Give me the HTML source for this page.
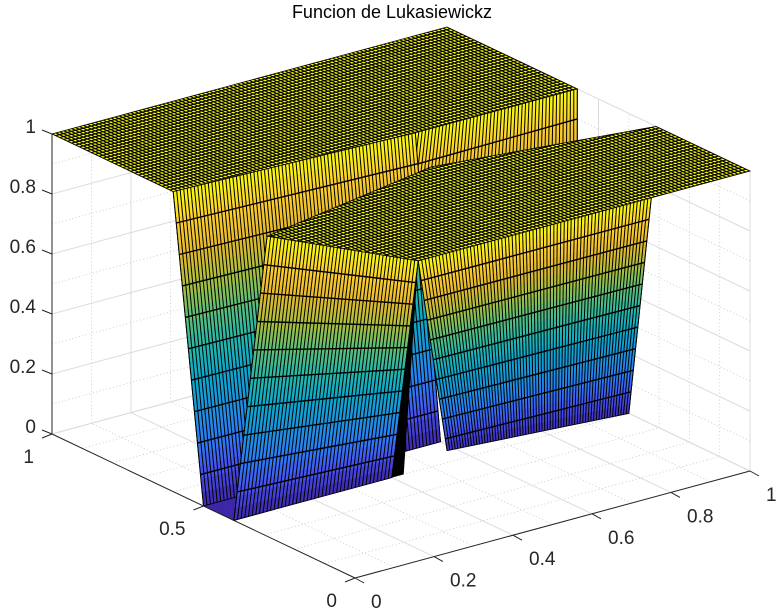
<!DOCTYPE html>
<html><head><meta charset="utf-8"><style>
html,body{margin:0;padding:0;background:#fff;}
svg{display:block;font-family:"Liberation Sans",sans-serif;}
</style></head><body>
<svg id="chart" width="783" height="612" viewBox="0 0 783 612" xmlns="http://www.w3.org/2000/svg">
<text x="392" y="18" text-anchor="middle" font-size="18" fill="#000">Funcion de Lukasiewickz</text>
<g id="grid"></g>
<g id="surf"></g>
<g id="axes"></g>
</svg>
<script>
const xTicks=[0,0.2,0.4,0.6,0.8,1];
const yTicks=[0,0.5,1];
const zTicks=[0,0.2,0.4,0.6,0.8,1];
const xTickLabels=["0","0.2","0.4","0.6","0.8","1"];
const yTickLabels=["0","0.5","1"];
const zTickLabels=["0","0.2","0.4","0.6","0.8","1"];
// surface pieces in data units [x,y,z]
const backPlateau=[[0,0.6,1],[0,1,1],[1,1,1],[1,0.57,1],[0.59,0.57,1]];
const frontPlateau=[[0,0.29,1],[0.5,0.4,1],[1,0.31,1],[1,0,1],[0.16,0,1]];
const trenchFloor=[[0,0.5,0],[0,0.4,0],[0.1,0.4,0],[0.1,0.5,0]];
const gapSliver=[[0.16,0,1],[0.4,0.4,0],[0.43,0.4,0]];
// walls: top0, top1, bottom1, bottom0
const backWall=[[0,0.6,1],[0.59,0.57,1],[0.6,0.5,0],[0,0.5,0]];
const backRightWall=[[0.59,0.57,1],[1,0.57,1],[1,0.57,0.75],[0.55,0.55,0.75]];
const rightFace=[[0.16,0,1],[0.75,0,1],[1,0.4,0],[0.54,0.4,0.04]];
const leftFace=[[0,0.29,1],[0.16,0,1],[0.4,0.4,0],[0,0.4,0]];

const NS="http://www.w3.org/2000/svg";
const O=[355,578],EX=[395,-107],EY=[-303,-144],EZ=[0,-300];
function P(x,y,z){return [O[0]+EX[0]*x+EY[0]*y+EZ[0]*z, O[1]+EX[1]*x+EY[1]*y+EZ[1]*z];}
function Pp(p){return P(p[0],p[1],p[2]);}
function lerp(a,b,t){return [a[0]+(b[0]-a[0])*t,a[1]+(b[1]-a[1])*t,a[2]+(b[2]-a[2])*t];}
function mk(tag,attrs,parent){const e=document.createElementNS(NS,tag);for(const k in attrs)e.setAttribute(k,attrs[k]);parent.appendChild(e);return e;}
function pts(arr){return arr.map(p=>{const q=Pp(p);return q[0].toFixed(1)+","+q[1].toFixed(1);}).join(" ");}
const PAR=[[62,38,168],[71,80,241],[44,124,246],[28,148,222],[10,168,205],[36,184,170],[95,191,118],[170,191,60],[231,185,45],[252,206,46],[249,251,14]];
function parula(z){z=Math.max(0,Math.min(1,z))*10;const i=Math.min(9,Math.floor(z)),t=z-i;const a=PAR[i],b=PAR[i+1];return "rgb("+a.map((v,k)=>Math.round(v+(b[k]-v)*t)).join(",")+")";}

const grid=document.getElementById('grid'),surf=document.getElementById('surf'),axes=document.getElementById('axes');
function line(a,b,parent,st){const p=Pp(a),q=Pp(b);return mk('line',Object.assign({x1:p[0].toFixed(1),y1:p[1].toFixed(1),x2:q[0].toFixed(1),y2:q[1].toFixed(1)},st),parent);}
const major={stroke:"#dcdcdc","stroke-width":1},minor={stroke:"#c4c4c4","stroke-width":0.8,"stroke-dasharray":"1,2.5"};
for(let i=0;i<=10;i++){const v=i/10;const isMajX=xTicks.some(t=>Math.abs(t-v)<1e-6);const isMajY=yTicks.some(t=>Math.abs(t-v)<1e-6);const isMajZ=zTicks.some(t=>Math.abs(t-v)<1e-6);
 let l;
 l=line([v,0,0],[v,1,0],grid,isMajX?major:minor);
 l=line([0,v,0],[1,v,0],grid,isMajY?major:minor);
 l=line([v,1,0],[v,1,1],grid,isMajX?major:minor);
 l=line([0,1,v],[1,1,v],grid,isMajZ?major:minor);
 l=line([1,v,0],[1,v,1],grid,isMajY?major:minor);
 l=line([1,0,v],[1,1,v],grid,isMajZ?major:minor);
}
let clipId=0;
function plateau(poly,name,zc){
 const g=mk('g',{},surf);
 
 
 const id='c'+(clipId++);const cp=mk('clipPath',{id:id},g);mk('polygon',{points:pts(poly)},cp);
 mk('polygon',{points:pts(poly),fill:parula(zc)},g);
 const lg=mk('g',{'clip-path':'url(#'+id+')',stroke:'#000','stroke-width':1.1},g);
 for(let x=0;x<=1.0001;x+=0.01)line([x,0,zc],[x,1,zc],lg,{});
 for(let y=0;y<=1.0001;y+=0.013)line([0,y,zc],[1,y,zc],lg,{});
 mk('polygon',{points:pts(poly),fill:'none',stroke:'#000','stroke-width':0.8},g);
}
function wall(q,name){
 const g=mk('g',{},surf);
 
 
 const [t0,t1,b1,b0]=q;const N=24;
 for(let k=0;k<N;k++){const s0=k/N,s1=(k+1)/N;const a=lerp(t0,b0,s0),b=lerp(t1,b1,s0),c=lerp(t1,b1,s1),d=lerp(t0,b0,s1);
  const col=parula((a[2]+d[2]+b[2]+c[2])/4);
  mk('polygon',{points:pts([a,b,c,d]),fill:col,stroke:col,'stroke-width':0.6},g);}
 const pt0=Pp(t0),pt1=Pp(t1);const M=Math.max(4,Math.round(Math.hypot(pt1[0]-pt0[0],pt1[1]-pt0[1])/3.6));
 const lg=mk('g',{stroke:'#000','stroke-width':1},g);
 for(let i=0;i<=M;i++){const s=i/M;line(lerp(t0,t1,s),lerp(b0,b1,s),lg,{});}
 for(let zz=0.1;zz<0.95;zz+=0.1){const s0=(t0[2]-zz)/(t0[2]-b0[2]),s1=(t1[2]-zz)/(t1[2]-b1[2]);if(s0<0||s0>1||s1<0||s1>1)continue;line(lerp(t0,b0,s0),lerp(t1,b1,s1),lg,{'stroke-width':1.4});}
 mk('polygon',{points:pts(q),fill:'none',stroke:'#000','stroke-width':0.8},g);
}
plateau(backPlateau,'back-plateau',1);
wall(backRightWall,'back-right-wall');
wall(backWall,'back-wall');
const tf=mk('polygon',{points:pts(trenchFloor),fill:parula(0),stroke:'#000','stroke-width':0.8},surf);

plateau(frontPlateau,'front-plateau',1);
const gs=mk('polygon',{points:pts(gapSliver),fill:'#000'},surf);

wall(rightFace,'right-trench-face');
wall(leftFace,'left-front-face');

const ax={stroke:'#262626','stroke-width':1};
let a;
a=line([0,0,0],[1,0,0],axes,ax);
a=line([0,0,0],[0,1,0],axes,ax);
a=line([0,1,0],[0,1,1],axes,ax);
function txt(s,x,y,anchor,name){const t=mk('text',{x:x.toFixed(1),y:y.toFixed(1),'text-anchor':anchor,'font-size':19,fill:'#262626'},axes);t.textContent=s;}
xTicks.forEach((v,i)=>{const p=P(v,0,0);mk('line',{x1:p[0],y1:p[1],x2:p[0]+9,y2:p[1]+5,stroke:'#262626'},axes);txt(xTickLabels[i],p[0]+16,p[1]+30,'start','x-tick-label');});
yTicks.forEach((v,i)=>{const p=P(0,v,0);mk('line',{x1:p[0],y1:p[1],x2:p[0]-10,y2:p[1]+4,stroke:'#262626'},axes);txt(yTickLabels[i],p[0]-18,p[1]+29,'end','y-tick-label');});
zTicks.forEach((v,i)=>{const p=P(0,1,v);mk('line',{x1:p[0],y1:p[1],x2:p[0]-10,y2:p[1]-4,stroke:'#262626'},axes);txt(zTickLabels[i],p[0]-16,p[1]-1,'end','z-tick-label');});
</script>
</body></html>
